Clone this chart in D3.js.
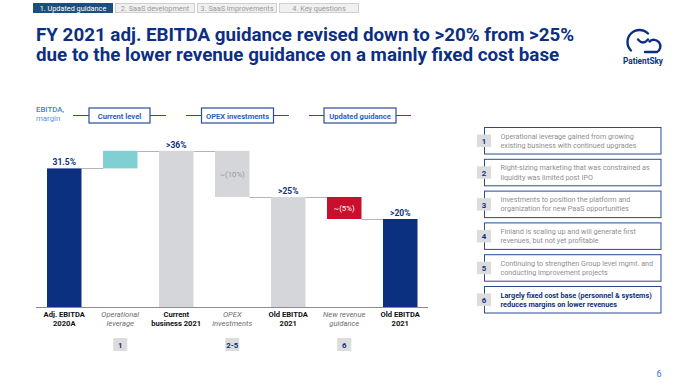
<!DOCTYPE html>
<html>
<head>
<meta charset="utf-8">
<script src="https://cdnjs.cloudflare.com/ajax/libs/d3/7.8.5/d3.min.js"></script>
<style>
  body { margin: 0; background: #fff; }
  svg { font-family: Roboto, "Noto Sans", sans-serif; }
</style>
</head>
<body>
<script>
// chart data
var categories = ["Adj. EBITDA|2020A", "Operational|leverage", "Current|business 2021", "OPEX|investments", "Old EBITDA|2021", "New revenue|guidance", "Old EBITDA|2021"];
var kinds = ["end", "up", "sub", "down", "sub", "cut", "end"];
var levels = [31.5, 35.5, 35.5, 25, 25, 20, 20];   // level reached after each step
var labels = ["31.5%", "", ">36%", "~(10%)", ">25%", "~(5%)", ">20%"];
var badges = ["", "1", "", "2-5", "", "6", ""];

var groups = ["Current level", "OPEX investments", "Updated guidance"];
var tabs = ["1. Updated guidance", "2. SaaS development", "3. SaaS improvements", "4. Key questions"];
var titleLines = ["FY 2021 adj. EBITDA guidance revised down to >20% from >25%",
                  "due to the lower revenue guidance on a mainly fixed cost base"];
var notes = [
  ["1", "Operational leverage gained from growing", "existing business with continued upgrades"],
  ["2", "Right-sizing marketing that was constrained as", "liquidity was limited post IPO"],
  ["3", "Investments to position the platform and", "organization for new PaaS opportunities"],
  ["4", "Finland is scaling up and will generate first", "revenues, but not yet profitable"],
  ["5", "Continuing to strengthen Group level mgmt. and", "conducting improvement projects"],
  ["6", "Largely fixed cost base (personnel & systems)", "reduces margins on lower revenues"]
];

var W = 690, H = 386;
var navy = "#0b3080", titleBlue = "#0d2f82", lightBlue = "#3f7fe0";
var barColor = {end: navy, sub: "#d5d6d9", up: "#80d0d3", down: "#d5d6d9", cut: "#c8102e"};
var isTotal = function(k) { return k == "end" || k == "sub"; };

var svg = d3.select("body").append("svg").attr("width", W).attr("height", H);

// tabs
var tabX = [33, 115, 197, 279], tabW = [79, 79, 79, 79];
tabs.forEach(function(t, i) {
  svg.append("rect").attr("x", tabX[i] + 0.5).attr("y", 3.5).attr("width", tabW[i]).attr("height", 9)
    .attr("fill", i == 0 ? "#1d4f7d" : "#f0f0f0").attr("stroke", i == 0 ? "#1d4f7d" : "#cfcfcf");
  svg.append("text").attr("x", tabX[i] + tabW[i] / 2 + 0.5).attr("y", 11).attr("text-anchor", "middle")
    .attr("font-size", 7.3).attr("fill", i == 0 ? "#fff" : "#9a9a9a").text(t);
});

// title
svg.selectAll(".title").data(titleLines).enter().append("text")
  .attr("x", 36).attr("y", function(d, i) { return 41 + i * 20; })
  .attr("font-size", 18.8).attr("font-weight", 700).attr("fill", titleBlue).text(function(d) { return d; });

// logo
var logo = svg.append("g").attr("fill", "none").attr("stroke", navy).attr("stroke-width", 2.4).attr("stroke-linecap", "round");
logo.append("path").attr("d", "M631 50.5 A12 12 0 1 1 648 33.5");
logo.append("path").attr("d", "M649.5 41.5 A6.5 6.5 0 1 1 657 52 L645 52");
logo.append("path").attr("d", "M638 39.5 Q643 45.5 648 39.5");
svg.append("text").attr("x", 643).attr("y", 64).attr("text-anchor", "middle").attr("font-size", 8.2)
  .attr("font-weight", 700).attr("fill", navy).text("PatientSky");

// scales
var x = d3.scaleBand().domain(d3.range(categories.length)).range([35.8, 428.7]).paddingInner(0.384).paddingOuter(0.2);
var y = d3.scaleLinear().domain([0, 36]).range([307, 148.6]);

var bars = categories.map(function(c, i) {
  var prev = i > 0 ? levels[i - 1] : 0;
  var lo = isTotal(kinds[i]) ? 0 : Math.min(prev, levels[i]);
  var hi = isTotal(kinds[i]) ? levels[i] : Math.max(prev, levels[i]);
  return {i: i, kind: kinds[i], lo: lo, hi: hi, label: labels[i]};
});

// connectors
svg.selectAll(".conn").data(bars.slice(1)).enter().append("line")
  .attr("x1", function(d) { return x(d.i - 1) + x.bandwidth(); })
  .attr("x2", function(d) { return x(d.i); })
  .attr("y1", function(d) { return Math.round(y(levels[d.i - 1])) + 0.5; })
  .attr("y2", function(d) { return Math.round(y(levels[d.i - 1])) + 0.5; })
  .attr("stroke", "#b5b5b5").attr("stroke-width", 1);

// bars
svg.selectAll(".bar").data(bars).enter().append("rect")
  .attr("x", function(d) { return x(d.i); })
  .attr("y", function(d) { return y(d.hi); })
  .attr("width", x.bandwidth())
  .attr("height", function(d) { return y(d.lo) - y(d.hi); })
  .attr("fill", function(d) { return barColor[d.kind]; });

// value labels
bars.forEach(function(d) {
  if (!d.label) return;
  var cx = x(d.i) + x.bandwidth() / 2;
  if (isTotal(d.kind)) {
    svg.append("text").attr("x", cx).attr("y", y(d.hi) - 3).attr("text-anchor", "middle")
      .attr("font-size", 8.5).attr("font-weight", 700).attr("fill", navy).text(d.label);
  } else {
    svg.append("text").attr("x", cx).attr("y", (y(d.hi) + y(d.lo)) / 2 + 3).attr("text-anchor", "middle")
      .attr("font-size", 7.8).attr("fill", d.kind == "cut" ? "#fff" : "#9a9a9a").text(d.label);
  }
});

// baseline
svg.append("line").attr("x1", 36).attr("x2", 428).attr("y1", y(0) + 0.5).attr("y2", y(0) + 0.5)
  .attr("stroke", "#8c8c8c").attr("stroke-width", 1);

// category labels
categories.forEach(function(c, i) {
  var tot = isTotal(kinds[i]);
  var t = svg.append("text").attr("text-anchor", "middle").attr("font-size", 7.6)
    .attr("font-weight", tot ? 700 : 400)
    .attr("font-style", tot ? "normal" : "italic")
    .attr("fill", tot ? "#111" : "#6e6e6e");
  c.split("|").forEach(function(line, j) {
    t.append("tspan").attr("x", x(i) + x.bandwidth() / 2).attr("y", 317 + j * 9).text(line);
  });
  if (badges[i]) {
    var bx = x(i) + x.bandwidth() / 2;
    svg.append("rect").attr("x", bx - 7).attr("y", 338).attr("width", 14).attr("height", 13).attr("fill", "#dcdcdc");
    svg.append("text").attr("x", bx).attr("y", 347.5).attr("text-anchor", "middle").attr("font-size", 7.8)
      .attr("font-weight", 700).attr("fill", navy).text(badges[i]);
  }
});

// y label
svg.append("text").attr("x", 36).attr("y", 112).attr("font-size", 7.8).attr("font-weight", 500).attr("fill", lightBlue).text("EBITDA,");
svg.append("text").attr("x", 36).attr("y", 121).attr("font-size", 7.8).attr("fill", "#5b95e8").text("margin");

// group header boxes
var groupSpan = [[73, 166], [186, 289], [309, 411]];
var boxW = [61, 72, 72];
groups.forEach(function(g, i) {
  var a = groupSpan[i][0], b = groupSpan[i][1], cx = (a + b) / 2;
  svg.append("line").attr("x1", a).attr("x2", b).attr("y1", 115.5).attr("y2", 115.5).attr("stroke", "#2a4e9a").attr("stroke-width", 1.2);
  svg.append("rect").attr("x", cx - boxW[i] / 2).attr("y", 108).attr("width", boxW[i]).attr("height", 15)
    .attr("fill", "#fff").attr("stroke", "#2a4e9a").attr("stroke-width", 1.2);
  svg.append("text").attr("x", cx).attr("y", 118.5).attr("text-anchor", "middle").attr("font-size", 7.6)
    .attr("font-weight", 700).attr("fill", "#2d5fc4").text(g);
});

// notes panel
notes.forEach(function(n, i) {
  var top = 127.5 + i * 31.8, last = i == notes.length - 1;
  svg.append("rect").attr("x", 484.5).attr("y", top).attr("width", 176.5).attr("height", 26.5)
    .attr("fill", "#fff").attr("stroke", "#2a4a92").attr("stroke-width", 1);
  svg.append("rect").attr("x", 477).attr("y", top + 7).attr("width", 14).attr("height", 12.5).attr("fill", "#dcdcdc");
  svg.append("text").attr("x", 484).attr("y", top + 16.5).attr("text-anchor", "middle").attr("font-size", 7.8)
    .attr("font-weight", 700).attr("fill", navy).text(n[0]);
  [n[1], n[2]].forEach(function(line, j) {
    svg.append("text").attr("x", 500.5).attr("y", top + 11 + j * 9.2).attr("font-size", last ? 7.3 : 7.2)
      .attr("font-weight", last ? 700 : 400).attr("fill", last ? navy : "#8f8f8f").text(line);
  });
});

// page number
svg.append("text").attr("x", 659).attr("y", 377).attr("text-anchor", "middle").attr("font-size", 9)
  .attr("fill", "#3c6fd0").text("6");
</script>
</body>
</html>
